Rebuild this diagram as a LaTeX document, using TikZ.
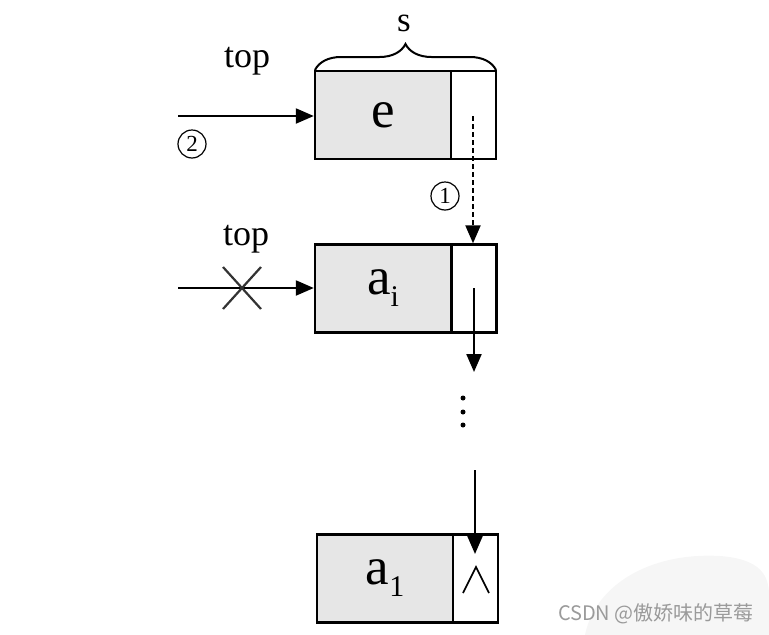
\documentclass[tikz,border=0pt]{standalone}
\usepackage{fontspec}
\setmainfont{Liberation Serif}
\newfontfamily\cjk{Noto Sans CJK SC}
\usetikzlibrary{arrows.meta,decorations.pathreplacing}
\definecolor{boxfill}{HTML}{E6E6E6}
\definecolor{wm}{HTML}{9A9A9A}
\begin{document}
\begin{tikzpicture}[x=1pt,y=-1pt,
  databox/.style={draw,line width=2.4pt,fill=boxfill,minimum width=136pt,minimum height=88pt,inner sep=0pt,font=\fontsize{53}{53}\selectfont},
  ptrbox/.style={draw,line width=2.4pt,fill=white,minimum width=45pt,minimum height=88pt,inner sep=0pt},
  arr/.style={line width=2.2pt,-{Triangle[length=18pt,width=15pt]}},
  lbl/.style={inner sep=0pt,font=\fontsize{36}{36}\selectfont},
  circnum/.style={draw,circle,line width=1.2pt,minimum size=28pt,inner sep=0pt,font=\fontsize{23}{23}\selectfont}]
\useasboundingbox (0,0) rectangle (769,635);
% faint background blob
\fill[gray!7] (585,635) .. controls (595,585) and (650,552) .. (720,556) .. controls (760,559) and (769,575) .. (769,595) -- (769,635) -- cycle;
% box 1
\node[databox] (e) at (383,115) {e};
\node[ptrbox] (ep) at (473.5,115) {};
% box 2
\node[databox] (ai) at (383,288.5) {a\raisebox{-12pt}{\fontsize{30}{30}\selectfont i}};
\node[ptrbox] (aip) at (474,288.5) {};
% box 3
\node[databox] (a1) at (385,578.5) {a\raisebox{-12pt}{\fontsize{30}{30}\selectfont 1}};
\node[ptrbox] (a1p) at (475.5,578.5) {};
% brace and s
\draw[line width=2pt,decorate,decoration={brace,amplitude=26pt,raise=0pt}] (315,70) -- (496,70);
\node[inner sep=0pt,font=\fontsize{35}{35}\selectfont,anchor=base] (s) at (404,31) {s};
% top labels
\node[lbl,anchor=base] (top1) at (247,67) {top};
\node[lbl,anchor=base] (top2) at (246,245) {top};
% arrow 2 into e
\coordinate (in1) at (178,116);
\draw[arr] (in1) -- (e.west |- in1);
\node[circnum] (c2) at (192,144) {2};
% dashed arrow 1
\coordinate (d1) at (473,116);
\draw[arr,dash pattern=on 5pt off 3pt] (d1) -- (aip.north -| d1);
\node[circnum] (c1) at (445,196) {1};
% arrow into ai, crossed
\coordinate (in2) at (178,288);
\draw[arr] (in2) -- (ai.west |- in2);
\coordinate (xa) at (223,267);
\coordinate (xb) at (261,309);
\coordinate (xc) at (261,267);
\coordinate (xd) at (223,309);
\draw[line width=2.2pt,black!80] (xa) -- (xb) (xc) -- (xd);
% arrow from ai ptr down
\coordinate (p2) at (474,288);
\coordinate (p2end) at (474,372);
\draw[arr] (p2) -- (p2end);
% dots
\fill (463,398) circle (2.5pt) (463,412) circle (2.5pt) (463,425) circle (2.5pt);
% arrow into a1 ptr
\coordinate (p3) at (475,470);
\coordinate (p3end) at (475,554);
\draw[arr] (p3) -- (p3end);
% null mark
\draw[line width=1.6pt] (463,593) -- (476,567) -- (489,593);
% watermark
\node[inner sep=0pt,text=wm,font=\cjk\fontsize{20}{20}\selectfont,anchor=east] (wmk) at (754,614) {CSDN @傲娇味的草莓};
\end{tikzpicture}
\end{document}
